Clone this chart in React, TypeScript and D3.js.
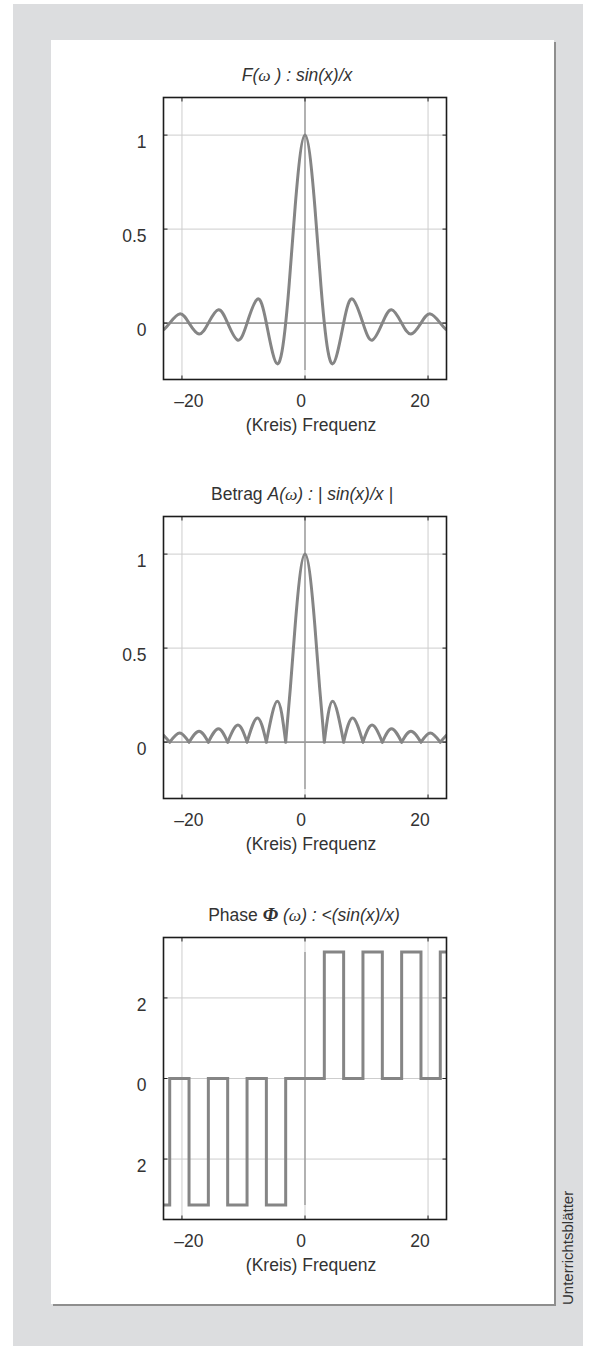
import React from "react";
import * as d3 from "d3";

// Frequency axis and value ranges
const xDomain: [number, number] = [-23, 23];
const amplitudeDomain: [number, number] = [-0.3, 1.2];
const phaseDomain: [number, number] = [-3.5, 3.5];

const xTicks = [-20, 0, 20];
const xTickLabels = ["–20", "0", "20"];
const amplitudeTicks = [0, 0.5, 1];
const amplitudeTickLabels = ["0", "0.5", "1"];
const phaseTicks = [-2, 0, 2];
const phaseTickLabels = ["2", "0", "2"];

// Zero crossings of sin(x)/x along the frequency axis
const zeroCrossings = [
  -21.99, -18.85, -15.71, -12.57, -9.42, -6.28, -3.14,
  3.14, 6.28, 9.42, 12.57, 15.71, 18.85, 21.99,
];
// Extremum of each lobe (the outer two are the values at the axis ends)
const extremaX = [-23, -20.37, -17.22, -14.07, -10.9, -7.73, -4.49, 0, 4.49, 7.73, 10.9, 14.07, 17.22, 20.37, 23];
const extremaY = [-0.037, 0.049, -0.058, 0.071, -0.091, 0.128, -0.217, 1, -0.217, 0.128, -0.091, 0.071, -0.058, 0.049, -0.037];
// Flanks of the main lobe
const mainLobeX = [-2.4, -1.6, 1.6, 2.4];
const mainLobeY = [0.28, 0.62, 0.62, 0.28];
// Phase of a negative real value
const phaseJump = 3.14;

type Pt = { x: number; y: number };

const samples: Pt[] = [
  ...zeroCrossings.map((x) => ({ x, y: 0 })),
  ...extremaX.map((x, i) => ({ x, y: extremaY[i] })),
  ...mainLobeX.map((x, i) => ({ x, y: mainLobeY[i] })),
].sort((a, b) => a.x - b.x);

// split the signal into lobes at its zero crossings
const lobes: Pt[][] = (() => {
  const out: Pt[][] = [];
  let cur: Pt[] = [];
  samples.forEach((p) => {
    cur.push(p);
    if (p.y === 0 && cur.length > 1) {
      out.push(cur);
      cur = [p];
    }
  });
  if (cur.length > 1) out.push(cur);
  return out;
})();

const lobePhase = (lobe: Pt[]) => {
  const peak = lobe.reduce((a, b) => (Math.abs(b.y) > Math.abs(a.y) ? b : a));
  if (peak.y >= 0) return 0;
  return peak.x < 0 ? -phaseJump : phaseJump;
};

const lastLobe = lobes[lobes.length - 1];
const phasePoints: Pt[] = [
  ...lobes.map((l) => ({ x: l[0].x, y: lobePhase(l) })),
  { x: lastLobe[lastLobe.length - 1].x, y: lobePhase(lastLobe) },
];

const FONT = "'Liberation Sans', Arial, Helvetica, sans-serif";
const SERIF = "'Liberation Serif', 'DejaVu Serif', serif";
const TEXT = "#333333";
const CURVE = "#858585";
const GRID = "#cdcdcd";
const AXIS0 = "#9b9b9b";
const FS = 17.5;

const plotLeft = 163.5;
const plotWidth = 283;
const plotHeight = 282;

const xScale = d3.scaleLinear().domain(xDomain).range([plotLeft, plotLeft + plotWidth]);
const xLabelShift = [7, -4, -8];

type PanelProps = {
  top: number;
  yDomain: [number, number];
  yTicks: number[];
  yLabels: string[];
  title: React.ReactNode;
  titleDx: number;
  children: (y: d3.ScaleLinear<number, number>) => React.ReactNode;
  axisSpan: [number, number];
  zeroLine: boolean;
  id: string;
};

function Panel({ top, yDomain, yTicks, yLabels, title, titleDx, children, axisSpan, zeroLine, id }: PanelProps) {
  const y = d3.scaleLinear().domain(yDomain).range([top + plotHeight, top]);
  const bottom = top + plotHeight;
  const right = plotLeft + plotWidth;
  const tickLen = 4;
  return (
    <g>
      <defs>
        <clipPath id={id}>
          <rect x={plotLeft} y={top} width={plotWidth} height={plotHeight} />
        </clipPath>
      </defs>
      {/* grid */}
      {xTicks.map((t) => (
        <line key={"gx" + t} x1={xScale(t)} x2={xScale(t)} y1={top} y2={bottom} stroke={GRID} strokeWidth={1} />
      ))}
      {yTicks.map((t) => (
        <line key={"gy" + t} x1={plotLeft} x2={right} y1={y(t)} y2={y(t)} stroke={GRID} strokeWidth={1} />
      ))}
      {/* axes through the origin */}
      <line x1={xScale(0)} x2={xScale(0)} y1={y(axisSpan[1])} y2={y(axisSpan[0])} stroke={AXIS0} strokeWidth={1.4} />
      {zeroLine && <line x1={plotLeft} x2={right} y1={y(0)} y2={y(0)} stroke={AXIS0} strokeWidth={1.6} />}
      <g clipPath={`url(#${id})`}>{children(y)}</g>
      {/* ticks */}
      {xTicks.map((t) => (
        <g key={"tx" + t}>
          <line x1={xScale(t)} x2={xScale(t)} y1={bottom} y2={bottom - tickLen} stroke="#222" strokeWidth={1} />
          <line x1={xScale(t)} x2={xScale(t)} y1={top} y2={top + tickLen} stroke="#222" strokeWidth={1} />
        </g>
      ))}
      {yTicks.map((t) => (
        <g key={"ty" + t}>
          <line x1={plotLeft} x2={plotLeft + tickLen} y1={y(t)} y2={y(t)} stroke="#222" strokeWidth={1} />
          <line x1={right} x2={right - tickLen} y1={y(t)} y2={y(t)} stroke="#222" strokeWidth={1} />
        </g>
      ))}
      <rect x={plotLeft} y={top} width={plotWidth} height={plotHeight} fill="none" stroke="#1c1c1c" strokeWidth={1.6} />
      {/* labels */}
      {xTicks.map((t, i) => (
        <text key={"lx" + t} x={xScale(t) + xLabelShift[i]} y={bottom + 27} textAnchor="middle" fontSize={FS} fill={TEXT} fontFamily={FONT}>
          {xTickLabels[i]}
        </text>
      ))}
      {yTicks.map((t, i) => (
        <text key={"ly" + t} x={plotLeft - 17} y={y(t) + 12.8} textAnchor="end" fontSize={FS} fill={TEXT} fontFamily={FONT}>
          {yLabels[i]}
        </text>
      ))}
      <text x={plotLeft + plotWidth / 2 + 6} y={bottom + 51} textAnchor="middle" fontSize={FS} fill={TEXT} fontFamily={FONT}>
        (Kreis) Frequenz
      </text>
      <text x={plotLeft + plotWidth / 2 + titleDx} y={top - 17} textAnchor="middle" fontSize={FS} fill={TEXT} fontFamily={FONT}>
        {title}
      </text>
    </g>
  );
}

export default function App() {
  const lineFor = (y: d3.ScaleLinear<number, number>, curve: d3.CurveFactory) =>
    d3.line<Pt>().x((d) => xScale(d.x)).y((d) => y(d.y)).curve(curve);

  const curveStyle = { fill: "none", stroke: CURVE, strokeWidth: 3 };

  return (
    <svg width={595} height={1350} style={{ position: "absolute", left: 0, top: 0 }} xmlns="http://www.w3.org/2000/svg">
      <rect x={13} y={4} width={570} height={1342} fill="#dcdddf" />
      <rect x={53} y={42} width={503} height={1264} fill="#8e8e8e" />
      <rect x={51} y={40} width={503} height={1264} fill="#ffffff" />

      <Panel
        id="clipSignal"
        top={97.5}
        yDomain={amplitudeDomain}
        yTicks={amplitudeTicks}
        yLabels={amplitudeTickLabels}
        axisSpan={[-0.25, 1.2]}
        zeroLine
        titleDx={-8}
        title={
          <>
            <tspan fontStyle="italic">F(</tspan>
            <tspan fontStyle="italic" fontFamily={SERIF}>ω</tspan>
            <tspan fontStyle="italic"> ) : sin(x)/x</tspan>
          </>
        }
      >
        {(y) => <path d={lineFor(y, d3.curveNatural)(samples) || ""} {...curveStyle} strokeLinejoin="round" />}
      </Panel>

      <Panel
        id="clipMagnitude"
        top={516.5}
        yDomain={amplitudeDomain}
        yTicks={amplitudeTicks}
        yLabels={amplitudeTickLabels}
        axisSpan={[-0.25, 1.2]}
        zeroLine
        titleDx={-3}
        title={
          <>
            <tspan>Betrag </tspan>
            <tspan fontStyle="italic">A(</tspan>
            <tspan fontStyle="italic" fontFamily={SERIF}>ω</tspan>
            <tspan fontStyle="italic">) :  | sin(x)/x |</tspan>
          </>
        }
      >
        {(y) =>
          lobes.map((l, i) => (
            <path
              key={i}
              d={lineFor(y, d3.curveNatural)(l.map((p) => ({ x: p.x, y: Math.abs(p.y) }))) || ""}
              {...curveStyle}
              strokeLinecap="round"
            />
          ))
        }
      </Panel>

      <Panel
        id="clipPhase"
        top={937.5}
        yDomain={phaseDomain}
        yTicks={phaseTicks}
        yLabels={phaseTickLabels}
        axisSpan={[-phaseJump, phaseJump]}
        zeroLine={false}
        titleDx={-1}
        title={
          <>
            <tspan>Phase </tspan>
            <tspan fontStyle="italic" fontWeight={700} fontFamily={SERIF} fontSize={FS + 2}>Φ</tspan>
            <tspan fontStyle="italic"> (</tspan>
            <tspan fontStyle="italic" fontFamily={SERIF}>ω</tspan>
            <tspan fontStyle="italic">) : &lt;(sin(x)/x)</tspan>
          </>
        }
      >
        {(y) => <path d={lineFor(y, d3.curveStepAfter)(phasePoints) || ""} {...curveStyle} strokeLinejoin="miter" />}
      </Panel>

      <text transform="translate(573,1305) rotate(-90)" fontSize={15} fill={TEXT} fontFamily={FONT}>
        Unterrichtsblätter
      </text>
    </svg>
  );
}
